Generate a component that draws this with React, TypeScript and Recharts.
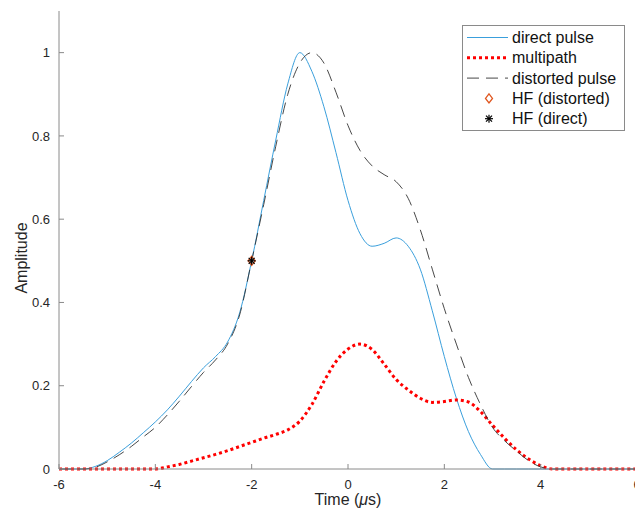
import React from 'react'
import { ComposedChart, Line, Scatter, XAxis, YAxis, Legend } from 'recharts'

const times = [
  -6, -5.75, -5.5, -5.25, -5, -4.75, -4.5, -4.25, -4, -3.75, -3.5, -3.25, -3, -2.75, -2.5, -2.25,
  -2, -1.75, -1.5, -1.25, -1, -0.75, -0.5, -0.25, 0, 0.25, 0.5, 0.75, 1, 1.25, 1.5, 1.75,
  2, 2.25, 2.5, 2.75, 3, 3.25, 3.5, 3.75, 4, 4.25, 4.5, 4.75, 5, 5.25, 5.5, 5.75, 6,
]

const directPulse = [
  0, 0, 0, 0.006, 0.02, 0.04, 0.062, 0.087, 0.113, 0.142, 0.175, 0.21, 0.243, 0.27, 0.305, 0.375,
  0.5, 0.645, 0.79, 0.925, 1.0, 0.955, 0.87, 0.76, 0.645, 0.565, 0.535, 0.542, 0.555, 0.535, 0.48, 0.38,
  0.27, 0.17, 0.09, 0.035, 0, 0, 0, 0, 0, 0, 0, 0, 0, 0, 0, 0, 0,
]

const distortedPulse = [
  0, 0, 0, 0.004, 0.017, 0.034, 0.054, 0.077, 0.1, 0.13, 0.163, 0.198, 0.232, 0.262, 0.3, 0.37,
  0.5, 0.635, 0.775, 0.9, 0.975, 1.0, 0.975, 0.905, 0.825, 0.765, 0.728, 0.707, 0.69, 0.65, 0.575, 0.48,
  0.385, 0.3, 0.22, 0.155, 0.1, 0.068, 0.043, 0.02, 0.005, 0, 0, 0, 0, 0, 0, 0, 0,
]

const multipath = [
  0, 0, 0, 0, 0, 0, 0, 0, 0, 0.005, 0.011, 0.019, 0.027, 0.035, 0.044, 0.054,
  0.064, 0.074, 0.083, 0.094, 0.115, 0.155, 0.21, 0.258, 0.288, 0.3, 0.287, 0.252, 0.215, 0.19, 0.17, 0.16,
  0.162, 0.166, 0.161, 0.138, 0.105, 0.074, 0.046, 0.024, 0.008, 0, 0, 0, 0, 0, 0, 0, 0,
]

// half-height point, same for both pulses
const hfTime = [-2]
const hfAmp = [0.5]

const xTicks = [-6, -4, -2, 0, 2, 4, 6]
const yTicks = [0, 0.2, 0.4, 0.6, 0.8, 1]

const legendLabels = ['direct pulse', 'multipath', 'distorted pulse', 'HF (distorted)', 'HF (direct)']

const data = times.map((t, i) => ({
  t,
  direct: directPulse[i],
  multipath: multipath[i],
  distorted: distortedPulse[i],
}))
const hfData = hfTime.map((t, i) => ({ t, hf: hfAmp[i] }))

const FONT = '"Liberation Sans", Arial, Helvetica, sans-serif'
const BLUE = '#3a9fdc'
const RED = '#ff0000'
const ORANGE = '#e0561f'
const AXIS = '#8a8a8a'
const TEXT = '#262626'

const Diamond = ({ cx, cy }: any) => (
  <path
    d={`M${cx},${cy - 4.5} L${cx + 3.5},${cy} L${cx},${cy + 4.5} L${cx - 3.5},${cy} Z`}
    fill="none"
    stroke={ORANGE}
    strokeWidth={1.3}
  />
)

const Asterisk = ({ cx, cy }: any) => (
  <g stroke="#000" strokeWidth={1.2}>
    <line x1={cx - 4} y1={cy} x2={cx + 4} y2={cy} />
    <line x1={cx} y1={cy - 4} x2={cx} y2={cy + 4} />
    <line x1={cx - 3} y1={cy - 3} x2={cx + 3} y2={cy + 3} />
    <line x1={cx - 3} y1={cy + 3} x2={cx + 3} y2={cy - 3} />
  </g>
)

function LegendBox() {
  const rowY = (i: number) => 12.5 + i * 20.3
  return (
    <svg width={163} height={106} style={{ display: 'block' }}>
      <rect x={0.5} y={0.5} width={162} height={105} fill="#fff" stroke={AXIS} />
      <line x1={5} x2={46} y1={rowY(0)} y2={rowY(0)} stroke={BLUE} strokeWidth={1} />
      <line x1={5} x2={46} y1={rowY(1)} y2={rowY(1)} stroke={RED} strokeWidth={3} strokeDasharray="3 3" />
      <line x1={5} x2={46} y1={rowY(2)} y2={rowY(2)} stroke="#333" strokeWidth={0.9} strokeDasharray="12 7" />
      <Diamond cx={27} cy={rowY(3)} />
      <Asterisk cx={27} cy={rowY(4)} />
      {legendLabels.map((label, i) => (
        <text key={label} x={50} y={rowY(i) + 5.5} fontFamily={FONT} fontSize={16} fill="#111">
          {label}
        </text>
      ))}
    </svg>
  )
}

const XLabel = ({ viewBox }: any) => (
  <text
    x={viewBox.x + viewBox.width / 2}
    y={viewBox.y + 36}
    textAnchor="middle"
    fontFamily={FONT}
    fontSize={16}
    fill={TEXT}
  >
    <tspan>Time (</tspan>
    <tspan fontStyle="italic">μ</tspan>
    <tspan>s)</tspan>
  </text>
)

const YLabel = ({ viewBox }: any) => {
  const x = 27
  const y = viewBox.y + viewBox.height / 2 + 18
  return (
    <text
      x={x}
      y={y}
      transform={`rotate(-90 ${x} ${y})`}
      textAnchor="middle"
      fontFamily={FONT}
      fontSize={16}
      fill={TEXT}
    >
      Amplitude
    </text>
  )
}

export default function App() {
  return (
    <div style={{ position: 'absolute', left: 0, top: 0, width: 635, height: 512, overflow: 'hidden', background: '#fff' }}>
      <ComposedChart width={645} height={512} data={data} margin={{ top: 11, right: 8, left: 0, bottom: 0 }}>
        <XAxis
          dataKey="t"
          type="number"
          domain={[-6, 6]}
          ticks={xTicks}
          height={43}
          tickSize={-5}
          tickMargin={16}
          stroke={AXIS}
          tick={{ fontSize: 13, fontFamily: FONT, fill: TEXT }}
          label={<XLabel />}
        />
        <YAxis
          type="number"
          domain={[0, 1.1]}
          ticks={yTicks}
          width={59}
          tickSize={-5}
          tickMargin={14}
          stroke={AXIS}
          tickFormatter={(v: number) => String(Number(v.toFixed(1)))}
          tick={{ fontSize: 13, fontFamily: FONT, fill: TEXT }}
          label={<YLabel />}
        />
        <Legend
          layout="vertical"
          align="center"
          verticalAlign="middle"
          wrapperStyle={{ left: 462, top: 25, width: 163, height: 106 }}
          content={() => <LegendBox />}
        />
        <Line
          type="monotone"
          dataKey="direct"
          stroke={BLUE}
          strokeWidth={1}
          dot={false}
          activeDot={false}
          isAnimationActive={false}
        />
        <Line
          type="monotone"
          dataKey="multipath"
          stroke={RED}
          strokeWidth={3}
          strokeDasharray="3 3"
          dot={false}
          activeDot={false}
          isAnimationActive={false}
        />
        <Line
          type="monotone"
          dataKey="distorted"
          stroke="#333"
          strokeWidth={0.9}
          strokeDasharray="12 7"
          dot={false}
          activeDot={false}
          isAnimationActive={false}
        />
        <Scatter data={hfData} dataKey="hf" shape={<Diamond />} isAnimationActive={false} />
        <Scatter data={hfData} dataKey="hf" shape={<Asterisk />} isAnimationActive={false} />
      </ComposedChart>
    </div>
  )
}
